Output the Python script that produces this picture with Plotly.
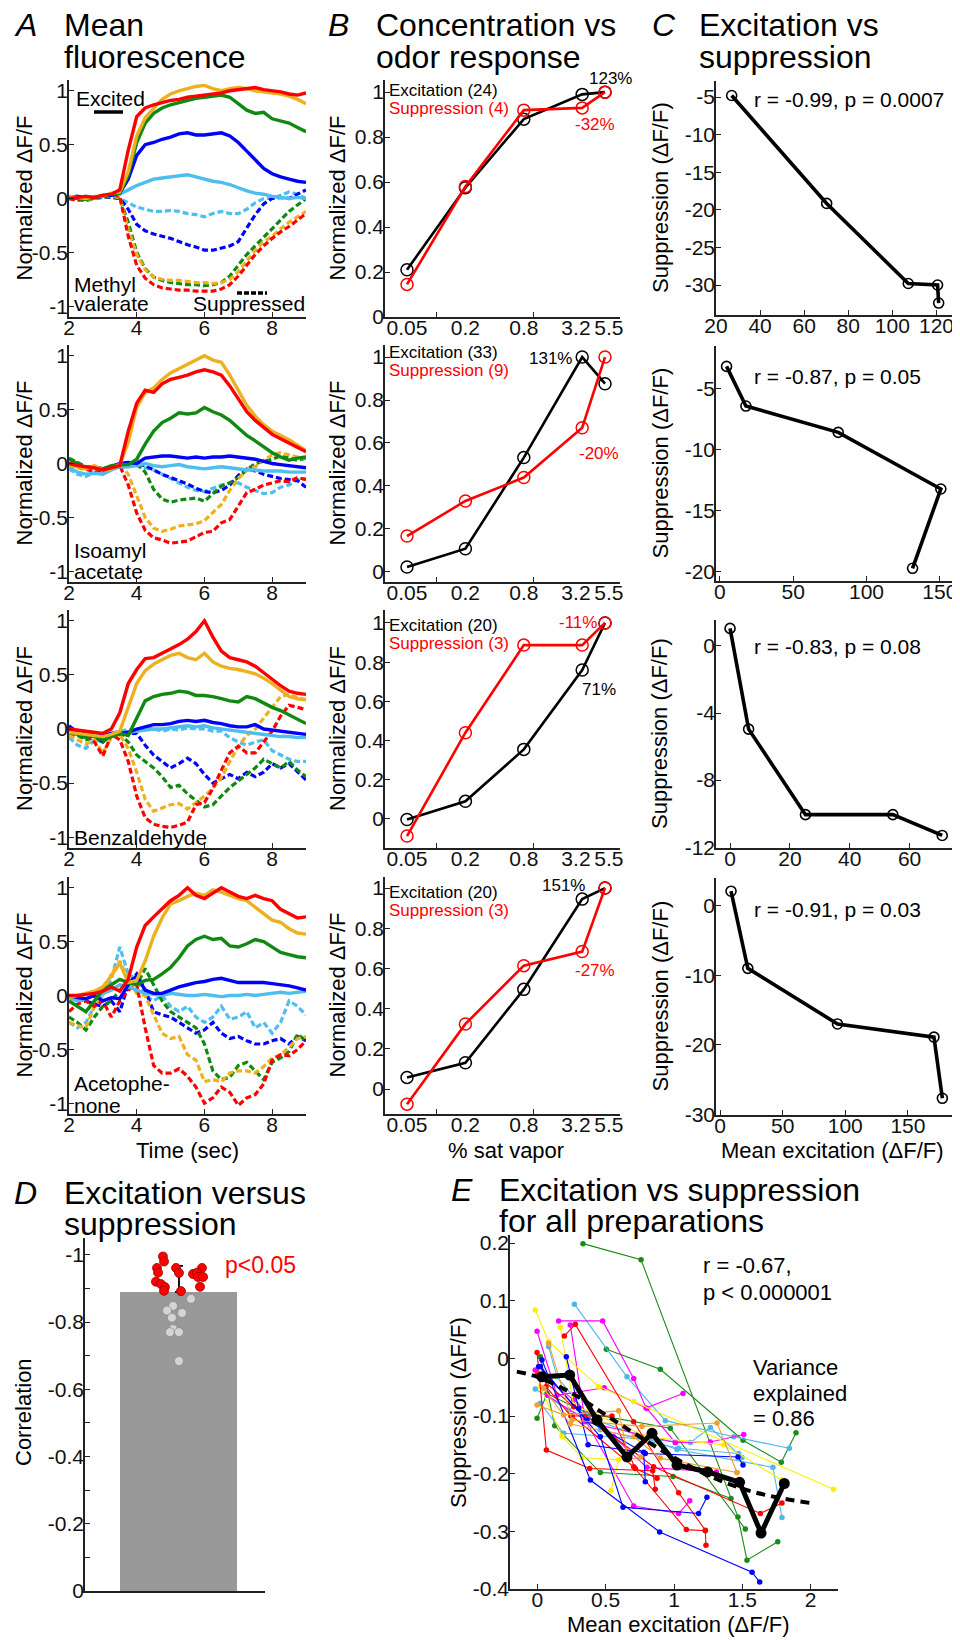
import plotly.graph_objects as go

FONT = "Liberation Sans, Arial, Helvetica, sans-serif"
W, H = 960, 1640
OX, OY = 8, 8          # page body margin of the viewer, compensated in layout positions
AXC = "#222222"

# ---------------- Panel A data (normalized dF/F vs time) ----------------
TIME = [2.0, 2.25, 2.5, 2.75, 3.0, 3.25, 3.5, 3.75, 4.0, 4.25, 4.5, 4.75, 5.0, 5.25, 5.5,
        5.75, 6.0, 6.25, 6.5, 6.75, 7.0, 7.25, 7.5, 7.75, 8.0, 8.25, 8.5, 8.75, 9.0]
CONC = [0.05, 0.2, 0.8, 3.2, 5.5]
CONC_LABELS = ["0.05", "0.2", "0.8", "3.2", "5.5"]
CONC_LABEL_POS = [0.05, 0.2, 0.8, 2.76, 6.04]   # where the labels sit on the log axis
CONC_COLORS = ["#4dbeee", "#0000ff", "#118811", "#edb120", "#ff0000"]

# Methyl valerate
mv_exc_005 = [0.00,0.01,0.02,0.00,0.02,0.03,0.04,0.08,0.12,0.15,0.18,0.19,0.20,0.21,0.22,0.20,0.18,0.16,0.15,0.13,0.10,0.07,0.05,0.04,0.02,0.01,0.00,0.01,0.00]
mv_exc_02 = [0.01,0.02,0.00,0.01,0.02,0.03,0.05,0.18,0.40,0.50,0.52,0.55,0.57,0.60,0.61,0.59,0.59,0.60,0.61,0.58,0.52,0.44,0.36,0.28,0.23,0.20,0.18,0.16,0.15]
mv_exc_08 = [0.01,0.00,-0.01,0.01,0.02,0.04,0.05,0.22,0.52,0.70,0.79,0.84,0.87,0.89,0.91,0.93,0.94,0.95,0.96,0.94,0.88,0.82,0.79,0.80,0.74,0.72,0.70,0.66,0.62]
mv_exc_32 = [0.02,0.01,0.00,0.02,0.02,0.05,0.06,0.25,0.58,0.75,0.84,0.92,0.97,1.00,1.02,1.04,1.05,1.02,1.00,1.02,1.03,1.02,1.00,0.99,0.98,0.97,0.95,0.92,0.88]
mv_exc_55 = [0.00,0.01,0.02,0.01,0.03,0.04,0.08,0.45,0.76,0.84,0.87,0.89,0.91,0.92,0.94,0.95,0.96,0.97,0.98,1.00,1.01,1.02,1.03,1.01,1.00,0.99,0.97,0.96,0.98]
mv_sup_005 = [0.00,0.01,0.00,0.01,0.02,0.01,0.00,-0.04,-0.08,-0.10,-0.12,-0.12,-0.11,-0.12,-0.14,-0.15,-0.17,-0.14,-0.12,-0.14,-0.14,-0.10,-0.04,0.00,0.00,0.03,0.06,0.04,0.00]
mv_sup_02 = [0.01,0.00,0.01,0.00,0.02,0.01,0.00,-0.10,-0.24,-0.30,-0.33,-0.35,-0.37,-0.40,-0.43,-0.45,-0.48,-0.48,-0.46,-0.44,-0.40,-0.28,-0.15,-0.05,0.00,0.01,0.00,0.04,0.08]
mv_sup_08 = [0.01,-0.01,-0.02,0.00,0.01,0.02,0.00,-0.22,-0.50,-0.65,-0.73,-0.76,-0.78,-0.79,-0.80,-0.80,-0.81,-0.80,-0.78,-0.72,-0.62,-0.52,-0.44,-0.36,-0.28,-0.20,-0.12,-0.06,0.00]
mv_sup_32 = [0.01,0.00,-0.01,0.00,0.02,0.02,0.01,-0.28,-0.52,-0.66,-0.73,-0.75,-0.76,-0.76,-0.77,-0.78,-0.78,-0.79,-0.78,-0.75,-0.68,-0.58,-0.48,-0.40,-0.35,-0.28,-0.22,-0.17,-0.12]
mv_sup_55 = [0.00,-0.02,0.01,0.00,0.02,0.03,0.02,-0.35,-0.62,-0.74,-0.80,-0.83,-0.84,-0.85,-0.85,-0.86,-0.86,-0.86,-0.84,-0.80,-0.72,-0.62,-0.52,-0.44,-0.37,-0.31,-0.26,-0.20,-0.14]

# Isoamyl acetate
ia_exc_005 = [-0.04,-0.08,-0.10,-0.09,-0.10,-0.06,-0.03,-0.03,-0.02,0.00,-0.02,-0.03,-0.02,-0.01,-0.03,-0.04,-0.05,-0.04,-0.03,-0.04,-0.05,-0.06,-0.06,-0.07,-0.07,-0.07,-0.08,-0.08,-0.08]
ia_exc_02 = [0.00,-0.02,-0.04,-0.03,-0.05,-0.03,0.00,0.01,0.00,0.05,0.06,0.07,0.07,0.06,0.05,0.06,0.05,0.06,0.06,0.07,0.06,0.05,0.04,0.02,0.00,-0.01,-0.02,-0.03,-0.04]
ia_exc_08 = [0.04,0.00,-0.04,-0.03,-0.05,-0.02,-0.01,-0.01,0.04,0.18,0.30,0.38,0.42,0.47,0.46,0.47,0.52,0.48,0.45,0.40,0.33,0.26,0.21,0.15,0.10,0.06,0.03,0.05,0.06]
ia_exc_32 = [-0.02,-0.03,-0.05,-0.02,-0.06,-0.05,-0.01,0.20,0.52,0.66,0.70,0.78,0.84,0.88,0.92,0.96,1.00,0.96,0.94,0.82,0.68,0.54,0.44,0.36,0.30,0.26,0.22,0.17,0.12]
ia_exc_55 = [0.00,-0.02,-0.03,-0.04,-0.06,-0.04,-0.02,0.30,0.56,0.68,0.66,0.74,0.78,0.80,0.82,0.85,0.87,0.85,0.82,0.72,0.60,0.48,0.40,0.33,0.27,0.23,0.19,0.15,0.11]
ia_sup_005 = [-0.05,-0.10,-0.12,-0.08,-0.10,-0.05,-0.02,0.00,-0.02,-0.04,-0.06,-0.10,-0.14,-0.18,-0.22,-0.25,-0.26,-0.23,-0.20,-0.18,-0.18,-0.22,-0.25,-0.28,-0.27,-0.22,-0.20,-0.15,-0.14]
ia_sup_02 = [0.00,-0.03,-0.05,-0.04,-0.06,-0.03,0.00,-0.01,0.00,-0.02,-0.06,-0.10,-0.13,-0.16,-0.19,-0.23,-0.26,-0.27,-0.25,-0.20,-0.11,-0.05,-0.07,-0.10,-0.12,-0.14,-0.15,-0.16,-0.22]
ia_sup_08 = [0.05,0.01,-0.03,-0.04,-0.07,-0.03,-0.02,-0.01,0.00,-0.08,-0.24,-0.33,-0.36,-0.34,-0.33,-0.32,-0.35,-0.28,-0.21,-0.18,-0.13,-0.06,0.00,0.02,0.04,0.07,0.05,0.03,0.05]
ia_sup_32 = [-0.01,-0.04,-0.06,-0.05,-0.06,-0.03,0.00,-0.10,-0.30,-0.50,-0.60,-0.63,-0.61,-0.58,-0.57,-0.56,-0.53,-0.46,-0.38,-0.25,-0.14,-0.06,-0.03,0.03,0.08,0.10,0.08,0.06,0.05]
ia_sup_55 = [-0.02,-0.03,-0.05,-0.08,-0.07,-0.04,-0.02,-0.20,-0.46,-0.62,-0.69,-0.71,-0.74,-0.73,-0.72,-0.68,-0.64,-0.63,-0.55,-0.52,-0.40,-0.27,-0.24,-0.20,-0.18,-0.16,-0.17,-0.13,-0.15]

# Benzaldehyde
bz_exc_005 = [-0.02,-0.04,-0.06,-0.05,-0.07,-0.04,-0.02,-0.03,-0.02,-0.01,0.00,0.00,0.01,0.02,0.03,0.02,0.03,0.01,0.00,-0.01,-0.02,-0.03,-0.04,-0.05,-0.06,-0.07,-0.07,-0.08,-0.08]
bz_exc_02 = [0.02,-0.02,-0.04,-0.05,-0.06,-0.04,-0.04,-0.03,0.00,0.02,0.04,0.04,0.05,0.07,0.08,0.07,0.08,0.06,0.05,0.03,0.02,0.02,0.04,0.00,-0.01,-0.02,-0.03,-0.04,-0.05]
bz_exc_08 = [-0.03,-0.05,-0.08,-0.06,-0.10,-0.07,-0.04,-0.06,0.10,0.26,0.30,0.32,0.33,0.35,0.34,0.31,0.31,0.30,0.28,0.26,0.25,0.30,0.28,0.24,0.20,0.17,0.13,0.09,0.05]
bz_exc_32 = [-0.03,-0.04,-0.05,-0.06,-0.07,-0.05,-0.02,0.20,0.42,0.54,0.60,0.64,0.68,0.70,0.66,0.64,0.70,0.62,0.58,0.56,0.55,0.53,0.51,0.47,0.42,0.36,0.30,0.28,0.27]
bz_exc_55 = [0.00,-0.01,-0.02,-0.03,-0.04,0.00,0.15,0.42,0.55,0.65,0.66,0.70,0.74,0.78,0.83,0.90,1.00,0.85,0.72,0.66,0.64,0.62,0.58,0.52,0.46,0.40,0.35,0.33,0.32]
bz_sup_005 = [-0.08,-0.15,-0.18,-0.10,-0.12,-0.04,-0.03,0.00,-0.02,0.02,0.00,-0.02,0.00,-0.01,0.01,0.00,0.00,-0.02,-0.02,-0.08,-0.12,-0.15,-0.12,-0.10,-0.20,-0.24,-0.28,-0.30,-0.30]
bz_sup_02 = [0.03,-0.04,-0.08,-0.06,-0.12,-0.05,-0.05,-0.04,-0.04,-0.15,-0.24,-0.30,-0.36,-0.32,-0.27,-0.32,-0.42,-0.50,-0.46,-0.42,-0.46,-0.40,-0.44,-0.40,-0.32,-0.36,-0.32,-0.40,-0.47]
bz_sup_08 = [-0.04,-0.06,-0.10,-0.08,-0.12,-0.06,-0.05,-0.12,-0.24,-0.30,-0.36,-0.44,-0.54,-0.52,-0.60,-0.66,-0.72,-0.70,-0.62,-0.54,-0.48,-0.42,-0.36,-0.28,-0.32,-0.36,-0.30,-0.38,-0.44]
bz_sup_32 = [-0.06,-0.10,-0.14,-0.10,-0.22,-0.08,-0.05,-0.18,-0.40,-0.65,-0.76,-0.73,-0.70,-0.69,-0.74,-0.68,-0.62,-0.55,-0.45,-0.30,-0.16,-0.06,0.00,0.10,0.20,0.30,0.32,0.29,0.27]
bz_sup_55 = [-0.01,-0.03,-0.06,-0.12,-0.25,-0.05,-0.10,-0.30,-0.62,-0.82,-0.88,-0.90,-0.91,-0.89,-0.86,-0.70,-0.68,-0.55,-0.38,-0.22,-0.16,-0.22,-0.22,-0.12,-0.02,0.12,0.22,0.20,0.18]

# Acetophenone
ap_exc_005 = [-0.02,-0.05,-0.03,0.00,0.02,0.05,0.10,0.08,0.05,0.02,0.01,0.00,0.02,0.01,0.00,0.00,0.01,0.00,-0.01,0.00,0.00,0.01,0.00,0.01,0.02,0.03,0.02,0.03,0.04]
ap_exc_02 = [0.00,-0.02,-0.03,0.00,-0.05,-0.02,-0.03,0.10,0.18,0.05,0.02,0.02,0.05,0.08,0.10,0.12,0.13,0.15,0.16,0.14,0.12,0.12,0.12,0.12,0.11,0.10,0.09,0.07,0.05]
ap_exc_08 = [-0.05,-0.10,-0.15,-0.05,0.05,0.10,0.15,0.12,0.10,0.14,0.15,0.20,0.26,0.35,0.46,0.52,0.55,0.52,0.53,0.46,0.45,0.48,0.52,0.50,0.45,0.40,0.38,0.36,0.35]
ap_exc_32 = [-0.02,0.00,0.02,0.04,0.08,0.18,0.30,0.12,0.14,0.32,0.55,0.72,0.85,0.88,0.92,0.95,0.93,0.98,0.96,0.93,0.90,0.88,0.82,0.76,0.70,0.68,0.62,0.58,0.57]
ap_exc_55 = [0.00,0.00,0.01,0.02,0.04,0.08,0.04,0.15,0.45,0.65,0.73,0.80,0.88,0.93,1.00,0.93,0.90,0.95,1.00,0.96,0.92,0.90,0.93,0.90,0.88,0.80,0.76,0.72,0.73]
ap_sup_005 = [-0.25,-0.30,-0.25,-0.10,0.00,0.15,0.45,0.20,0.15,0.00,-0.05,0.00,-0.10,-0.15,-0.10,-0.20,-0.25,-0.20,-0.10,-0.22,-0.20,-0.15,-0.30,-0.25,-0.35,-0.25,-0.05,-0.10,-0.18]
ap_sup_02 = [0.00,-0.03,-0.05,-0.08,-0.10,-0.05,-0.15,0.10,0.20,0.05,-0.15,-0.18,-0.20,-0.25,-0.30,-0.35,-0.32,-0.25,-0.35,-0.40,-0.38,-0.42,-0.45,-0.45,-0.42,-0.40,-0.45,-0.38,-0.42]
ap_sup_08 = [-0.20,-0.25,-0.32,-0.20,-0.10,-0.05,0.05,0.12,0.10,0.25,0.10,-0.05,-0.15,-0.20,-0.25,-0.30,-0.45,-0.70,-0.78,-0.76,-0.65,-0.62,-0.70,-0.78,-0.62,-0.58,-0.52,-0.36,-0.42]
ap_sup_32 = [-0.25,-0.28,-0.30,-0.10,0.00,0.20,0.32,0.15,0.02,0.00,-0.18,-0.35,-0.40,-0.38,-0.55,-0.60,-0.80,-0.78,-0.80,-0.72,-0.70,-0.70,-0.72,-0.66,-0.58,-0.55,-0.48,-0.40,-0.38]
ap_sup_55 = [-0.15,-0.08,-0.05,-0.10,-0.05,-0.20,-0.05,0.05,0.10,-0.30,-0.65,-0.72,-0.72,-0.68,-0.75,-0.85,-1.00,-0.95,-0.85,-0.90,-1.02,-0.95,-0.92,-0.82,-0.60,-0.55,-0.56,-0.50,-0.42]

# ---------------- Panel B data (concentration response) ----------------
b_mv_exc = [0.21, 0.575, 0.88, 0.99, 1.0]
b_mv_sup = [0.145, 0.58, 0.92, 0.93, 1.0]
b_ia_exc = [0.023, 0.108, 0.532, 1.0, 0.876]
b_ia_sup = [0.167, 0.33, 0.439, 0.671, 1.0]
b_bz_exc = [-0.003, 0.09, 0.355, 0.76, 1.0]
b_bz_sup = [-0.087, 0.44, 0.887, 0.887, 1.0]
b_ap_exc = [0.058, 0.131, 0.496, 0.945, 1.0]
b_ap_sup = [-0.075, 0.324, 0.614, 0.684, 1.0]
B_COUNTS = [("Excitation (24)", "Suppression (4)"), ("Excitation (33)", "Suppression (9)"),
            ("Excitation (20)", "Suppression (3)"), ("Excitation (20)", "Suppression (3)")]

# ---------------- Panel C data (excitation vs suppression) ----------------
c_mv_x = [27.1, 70.2, 107.2, 120.5, 121.0]
c_mv_y = [-4.8, -19.15, -29.8, -30.0, -32.4]
c_ia_x = [4.5, 17.7, 80.7, 150.7, 131.4]
c_ia_y = [-3.15, -6.4, -8.56, -13.2, -19.7]
c_bz_x = [0.0, 6.2, 25.2, 54.4, 70.9]
c_bz_y = [1.05, -4.96, -10.06, -10.06, -11.3]
c_ap_x = [8.8, 22.2, 93.8, 170.8, 177.5]
c_ap_y = [2.1, -9.0, -17.0, -18.9, -27.7]
C_STATS = ["r = -0.99, p = 0.0007", "r = -0.87, p = 0.05", "r = -0.83, p = 0.08", "r = -0.91, p = 0.03"]

# ---------------- Panel D data ----------------
D_MEAN = -0.89
D_SEM = 0.077
d_sig_x = [0.433, 0.439, 0.400, 0.406, 0.506, 0.522, 0.650, 0.600, 0.622, 0.628, 0.656, 0.394, 0.422, 0.444, 0.439, 0.533, 0.639]
d_sig_r = [-0.995, -0.980, -0.961, -0.947, -0.961, -0.946, -0.961, -0.943, -0.947, -0.934, -0.934, -0.920, -0.913, -0.904, -0.893, -0.892, -0.905]
d_ns_x = [0.589, 0.489, 0.456, 0.539, 0.483, 0.489, 0.472, 0.522, 0.522]
d_ns_r = [-0.869, -0.848, -0.834, -0.827, -0.813, -0.779, -0.770, -0.770, -0.684]

# ---------------- Panel E data ----------------
E_PREP_COLORS = ["#1a8c1a", "#1a8c1a", "#1a8c1a", "#1a8c1a",
                 "#4db8e8", "#4db8e8", "#4db8e8", "#4db8e8",
                 "#ff00ff", "#ff00ff", "#ff00ff", "#ff00ff", "#ff00ff",
                 "#ffee00", "#ffee00", "#ffee00",
                 "#ff0000", "#ff0000", "#ff0000", "#ff0000", "#ff0000",
                 "#0000ff", "#0000ff", "#0000ff", "#0000ff",
                 "#f0a030", "#f0a030", "#f0a030"]
E_PREP_X = [
    [0.334, 0.759, 1.468, 1.534, 1.759],
    [0.505, 0.900, 1.505, 1.785, 1.893],
    [0.022, 0.127, 0.461, 0.993, 1.417],
    [-0.002, 0.071, 0.363, 0.973, 1.522],
    [0.271, 0.656, 0.937, 1.437, 1.844],
    [-0.015, 0.229, 1.022, 1.724, 1.790],
    [0.022, 0.193, 1.120, 1.266, 1.498],
    [0.083, 0.144, 0.461, 1.034, 1.473],
    [0.156, 0.478, 0.705, 0.795, 1.066],
    [-0.002, 0.144, 0.490, 0.802, 1.010],
    [0.241, 0.351, 1.010, 1.266, 1.510],
    [0.071, 0.351, 0.705, 1.034, 1.115],
    [-0.015, 0.266, 0.559, 0.802, 1.310],
    [-0.015, 0.083, 0.449, 0.705, 2.168],
    [0.168, 0.266, 0.802, 1.363, 1.790],
    [0.022, 0.180, 0.327, 0.595, 0.539],
    [-0.002, 0.066, 0.383, 0.844, 0.863],
    [0.198, 0.278, 0.705, 1.034, 1.229],
    [0.254, 0.705, 1.090, 1.229, 1.234],
    [-0.002, 0.266, 0.851, 1.632, 1.790],
    [0.063, 0.246, 0.546, 0.717, 0.876],
    [0.034, 0.388, 0.895, 1.571, 1.627],
    [0.212, 0.302, 0.371, 0.778, 0.790],
    [0.022, 0.461, 0.627, 1.180, 1.241],
    [0.010, 0.363, 0.790, 1.468, 1.505],
    [0.083, 0.254, 0.766, 1.315, 1.461],
    [-0.002, 0.193, 0.595, 0.668, 0.754],
    [0.046, 0.241, 0.705, 0.900, 1.461],
]
E_PREP_Y = [
    [0.199, 0.171, -0.275, -0.350, -0.318],
    [0.016, -0.019, -0.142, -0.180, -0.129],
    [0.003, -0.117, -0.198, -0.205, -0.243],
    [-0.104, -0.061, -0.095, -0.121, -0.296],
    [0.094, -0.032, -0.108, -0.136, -0.156],
    [-0.053, -0.090, -0.158, -0.189, -0.276],
    [-0.078, -0.130, -0.146, -0.120, -0.172],
    [0.020, -0.032, -0.124, -0.156, -0.165],
    [0.065, 0.065, -0.035, -0.086, -0.061],
    [0.047, -0.064, -0.051, -0.087, -0.146],
    [0.058, -0.110, -0.146, -0.145, -0.132],
    [-0.064, -0.107, -0.256, -0.269, -0.247],
    [-0.020, -0.072, -0.136, -0.189, -0.197],
    [0.084, 0.029, -0.049, -0.075, -0.227],
    [0.054, -0.081, -0.136, -0.150, -0.211],
    [-0.049, -0.135, -0.172, -0.176, -0.229],
    [0.010, -0.159, -0.191, -0.195, -0.227],
    [0.039, 0.059, -0.110, -0.233, -0.298],
    [-0.100, -0.188, -0.297, -0.299, -0.324],
    [-0.029, -0.084, -0.188, -0.269, -0.251],
    [-0.049, -0.100, -0.100, -0.191, -0.208],
    [-0.003, -0.211, -0.301, -0.371, -0.388],
    [0.003, -0.087, -0.150, -0.163, -0.214],
    [-0.014, -0.136, -0.258, -0.269, -0.241],
    [-0.014, -0.107, -0.165, -0.171, -0.185],
    [0.026, -0.107, -0.118, -0.112, -0.198],
    [-0.081, -0.098, -0.091, -0.176, -0.171],
    [-0.052, -0.114, -0.136, -0.173, -0.198],
]
E_MEAN_X = [0.034, 0.237, 0.437, 0.656, 0.839, 1.022, 1.246, 1.480, 1.637, 1.807]
E_MEAN_Y = [-0.032, -0.029, -0.107, -0.171, -0.130, -0.185, -0.197, -0.215, -0.303, -0.217]
E_FIT_X = [-0.15, 0.0, 0.25, 0.5, 0.75, 1.0, 1.25, 1.5, 1.75, 2.0]
E_FIT_Y = [-0.023, -0.032, -0.060, -0.098, -0.136, -0.172, -0.203, -0.226, -0.241, -0.251]

# ---------------- figure ----------------
fig = go.Figure()
axes = {}


def PX(x):
    return (x - OX) / W


def PY(y):
    return 1 - (y - OY) / H


def axid(n):
    return "" if n == 1 else str(n)


def set_axes(n, xdom, ydom, xr, yr, xkw=None, ykw=None):
    base = dict(showline=True, linecolor=AXC, linewidth=1.6, ticks="inside", ticklen=5,
                tickwidth=1.3, tickcolor=AXC, showgrid=False, zeroline=False, automargin=False,
                tickfont=dict(family=FONT, size=21, color="#111111"))
    xa = dict(base, domain=[PX(xdom[0]), PX(xdom[1])], range=xr, anchor="y" + axid(n),
              ticklabelstandoff=-9)
    ya = dict(base, domain=[PY(ydom[1]), PY(ydom[0])], range=yr, anchor="x" + axid(n),
              ticklabelstandoff=-5)
    if xkw:
        xa.update(xkw)
    if ykw:
        ya.update(ykw)
    axes["xaxis" + axid(n)] = xa
    axes["yaxis" + axid(n)] = ya


def tk(vals, texts):
    return dict(tickmode="array", tickvals=vals, ticktext=texts)


annots = []


def txt(x, y, s, size=21, color="#000000", xanchor="left", angle=0):
    annots.append(dict(x=PX(x), y=PY(y), xref="paper", yref="paper", text=s, showarrow=False,
                       xanchor=xanchor, yanchor="middle", textangle=angle, borderpad=0,
                       font=dict(family=FONT, size=size, color=color)))


ROWS = [(80, 317), (345, 582), (610, 848), (877, 1114)]

# ---- Panel A ----
A_SETS = [
    ([mv_exc_005, mv_exc_02, mv_exc_08, mv_exc_32, mv_exc_55], [mv_sup_005, mv_sup_02, mv_sup_08, mv_sup_32, mv_sup_55]),
    ([ia_exc_005, ia_exc_02, ia_exc_08, ia_exc_32, ia_exc_55], [ia_sup_005, ia_sup_02, ia_sup_08, ia_sup_32, ia_sup_55]),
    ([bz_exc_005, bz_exc_02, bz_exc_08, bz_exc_32, bz_exc_55], [bz_sup_005, bz_sup_02, bz_sup_08, bz_sup_32, bz_sup_55]),
    ([ap_exc_005, ap_exc_02, ap_exc_08, ap_exc_32, ap_exc_55], [ap_sup_005, ap_sup_02, ap_sup_08, ap_sup_32, ap_sup_55]),
]
for i, (exc, sup) in enumerate(A_SETS):
    n = 1 + i
    xa = "x" + axid(n)
    ya = "y" + axid(n)
    for series, color in zip(sup, CONC_COLORS):
        fig.add_trace(go.Scatter(x=TIME, y=series, mode="lines", xaxis=xa, yaxis=ya,
                                 line=dict(color=color, width=3.2, dash="6px,3px"), showlegend=False))
    for series, color in zip(exc, CONC_COLORS):
        fig.add_trace(go.Scatter(x=TIME, y=series, mode="lines", xaxis=xa, yaxis=ya,
                                 line=dict(color=color, width=3.4), showlegend=False))
    set_axes(n, (69, 306), ROWS[i], [2, 9], [-1.1, 1.1],
             xkw=tk([2, 4, 6, 8], ["2", "4", "6", "8"]),
             ykw=tk([-1, -0.5, 0, 0.5, 1], ["-1", "-0.5", "0", "0.5", "1"]))
    txt(24, (ROWS[i][0] + ROWS[i][1]) / 2, "Normalized \u0394F/F", size=22, xanchor="center", angle=-90)

# ---- Panel B ----
B_SETS = [(b_mv_exc, b_mv_sup), (b_ia_exc, b_ia_sup), (b_bz_exc, b_bz_sup), (b_ap_exc, b_ap_sup)]
B_YR = [[0.0, 1.054], [-0.047, 1.056], [-0.148, 1.066], [-0.124, 1.055]]
for i, (exc, sup) in enumerate(B_SETS):
    n = 5 + i
    xa = "x" + axid(n)
    ya = "y" + axid(n)
    fig.add_trace(go.Scatter(x=CONC, y=exc, mode="lines+markers", xaxis=xa, yaxis=ya,
                             line=dict(color="#000000", width=2.6),
                             marker=dict(symbol="circle-open", size=12, color="#000000", line=dict(width=1.5)),
                             showlegend=False))
    fig.add_trace(go.Scatter(x=CONC, y=sup, mode="lines+markers", xaxis=xa, yaxis=ya,
                             line=dict(color="#ff0000", width=2.6),
                             marker=dict(symbol="circle-open", size=12, color="#ff0000", line=dict(width=1.5)),
                             showlegend=False))
    set_axes(n, (385, 620), ROWS[i], [-1.528, 0.895], B_YR[i],
             xkw=dict(type="log", ticks="", tickangle=0, **tk(CONC_LABEL_POS, CONC_LABELS),
                      minor=dict(ticks="inside", ticklen=5, tickwidth=1.3, tickcolor=AXC,
                                 tickmode="array", tickvals=[0.1, 1])),
             ykw=tk([0, 0.2, 0.4, 0.6, 0.8, 1], ["0", "0.2", "0.4", "0.6", "0.8", "1"]))
    txt(337, (ROWS[i][0] + ROWS[i][1]) / 2, "Normalized \u0394F/F", size=22, xanchor="center", angle=-90)

B_LEG_Y = [(90, 108), (353, 371), (625, 643), (892, 910)]
for (e, s), (y1, y2) in zip(B_COUNTS, B_LEG_Y):
    txt(388, y1, e, size=17)
    txt(388, y2, s, size=17, color="#ff0000")
txt(610, 78, "123%", size=17, xanchor="center")
txt(595, 125, "-32%", size=17, color="#ff0000", xanchor="center")
txt(550, 359, "131%", size=17, xanchor="center")
txt(599, 453, "-20%", size=17, color="#ff0000", xanchor="center")
txt(578, 622, "-11%", size=17, color="#ff0000", xanchor="center")
txt(599, 690, "71%", size=17, xanchor="center")
txt(563, 885, "151%", size=17, xanchor="center")
txt(595, 970, "-27%", size=17, color="#ff0000", xanchor="center")
txt(506, 1150, "% sat vapor", size=22, xanchor="center")

# ---- Panel C ----
C_SETS = [(c_mv_x, c_mv_y), (c_ia_x, c_ia_y), (c_bz_x, c_bz_y), (c_ap_x, c_ap_y)]
C_ROWS = [(81, 315), (346, 581), (620, 848), (878, 1115)]
C_XR = [[20, 127.5], [-2.7, 159], [-4.7, 74.5], [-3.2, 186]]
C_YR = [[-33.99, -2.87], [-20.74, -1.48], [-12.05, 1.55], [-30.1, 4.0]]
C_XT = [[20, 40, 60, 80, 100, 120], [0, 50, 100, 150], [0, 20, 40, 60], [0, 50, 100, 150]]
C_YT = [[-30, -25, -20, -15, -10, -5], [-20, -15, -10, -5], [-12, -8, -4, 0], [-30, -20, -10, 0]]
C_STAT_Y = [99, 377, 646, 909]
for i, (cx, cy) in enumerate(C_SETS):
    n = 9 + i
    fig.add_trace(go.Scatter(x=cx, y=cy, mode="lines+markers", xaxis="x" + axid(n), yaxis="y" + axid(n),
                             line=dict(color="#000000", width=3.6),
                             marker=dict(symbol="circle-open", size=10, color="#000000", line=dict(width=1.6)),
                             showlegend=False))
    set_axes(n, (716, 953), C_ROWS[i], C_XR[i], C_YR[i],
             xkw=dict(tickangle=0, **tk(C_XT[i], [str(v) for v in C_XT[i]])),
             ykw=tk(C_YT[i], [str(v) for v in C_YT[i]]))
    txt(660, (C_ROWS[i][0] + C_ROWS[i][1]) / 2, "Suppression (\u0394F/F)", size=22, xanchor="center", angle=-90)
    txt(753, C_STAT_Y[i], C_STATS[i], size=21)
txt(832, 1150, "Mean excitation (\u0394F/F)", size=22, xanchor="center")

# ---- Panel D ----
fig.add_trace(go.Bar(x=[0.52], y=[D_MEAN], width=[0.65], xaxis="x13", yaxis="y13",
                     marker=dict(color="#999999", line=dict(width=0)), showlegend=False))
fig.add_trace(go.Scatter(x=[0.522], y=[D_MEAN], mode="markers", xaxis="x13", yaxis="y13",
                         marker=dict(size=1, color="rgba(0,0,0,0)"),
                         error_y=dict(type="data", symmetric=False, array=[0], arrayminus=[D_SEM],
                                      color="#000000", thickness=1.8, width=4),
                         showlegend=False))
fig.add_trace(go.Scatter(x=d_ns_x, y=d_ns_r, mode="markers", xaxis="x13", yaxis="y13",
                         marker=dict(size=9, color="#d4d4d4", line=dict(color="#8c8c8c", width=0.8)),
                         showlegend=False))
fig.add_trace(go.Scatter(x=d_sig_x, y=d_sig_r, mode="markers", xaxis="x13", yaxis="y13",
                         marker=dict(size=9, color="#ff0000", line=dict(color="#990000", width=0.8)),
                         showlegend=False))
d_ticks = [-1.0, -0.9, -0.8, -0.7, -0.6, -0.5, -0.4, -0.3, -0.2, -0.1, 0.0]
d_text = ["-1", "", "-0.8", "", "-0.6", "", "-0.4", "", "-0.2", "", "0"]
set_axes(13, (85, 265), (1238, 1591), [0, 1], [0, -1.05],
         xkw=dict(ticks="", showticklabels=False),
         ykw=tk(d_ticks, d_text))
txt(23, 1412, "Correlation", size=22, xanchor="center", angle=-90)
txt(260, 1265, "p<0.05", size=23, color="#ff0000", xanchor="center")

# ---- Panel E ----
for cx, cy, col in zip(E_PREP_X, E_PREP_Y, E_PREP_COLORS):
    fig.add_trace(go.Scatter(x=cx, y=cy, mode="lines+markers", xaxis="x14", yaxis="y14",
                             line=dict(color=col, width=1.1), marker=dict(size=5.5, color=col),
                             showlegend=False))
fig.add_trace(go.Scatter(x=E_FIT_X, y=E_FIT_Y, mode="lines", xaxis="x14", yaxis="y14",
                         line=dict(color="#000000", width=4, dash="9px,6px"), line_shape="spline",
                         showlegend=False))
fig.add_trace(go.Scatter(x=E_MEAN_X, y=E_MEAN_Y, mode="lines+markers", xaxis="x14", yaxis="y14",
                         line=dict(color="#000000", width=5), marker=dict(size=11, color="#000000"),
                         showlegend=False))
set_axes(14, (510, 838), (1235, 1589), [-0.2, 2.2], [-0.4, 0.214],
         xkw=dict(tickangle=0, **tk([0, 0.5, 1, 1.5, 2], ["0", "0.5", "1", "1.5", "2"])),
         ykw=tk([-0.4, -0.3, -0.2, -0.1, 0, 0.1, 0.2], ["-0.4", "-0.3", "-0.2", "-0.1", "0", "0.1", "0.2"]))
txt(458, 1413, "Suppression (\u0394F/F)", size=22, xanchor="center", angle=-90)
txt(678, 1624, "Mean excitation (\u0394F/F)", size=22, xanchor="center")
txt(702, 1265, "r = -0.67,", size=22)
txt(702, 1292, "p < 0.000001", size=22)
txt(752, 1367, "Variance", size=22)
txt(752, 1393, "explained", size=22)
txt(752, 1418, "= 0.86", size=22)

# ---- Panel A inline labels ----
txt(110, 98, "Excited", size=21, xanchor="center")
txt(73, 284, "Methyl", size=21)
txt(73, 304, "valerate", size=21)
txt(306, 304, "Suppressed", size=21, xanchor="right")
txt(73, 550, "Isoamyl", size=21)
txt(73, 571, "acetate", size=21)
txt(73, 837, "Benzaldehyde", size=21)
txt(73, 1083, "Acetophe-", size=21)
txt(73, 1105, "none", size=21)
txt(187, 1150, "Time (sec)", size=22, xanchor="center")

# ---- Panel titles ----
TITLE = 32
txt(13, 25, "<i>A</i>", size=TITLE)
txt(63, 25, "Mean", size=TITLE)
txt(63, 57, "fluorescence", size=TITLE)
txt(327, 25, "<i>B</i>", size=TITLE)
txt(375, 25, "Concentration vs", size=TITLE)
txt(375, 57, "odor response", size=TITLE)
txt(651, 25, "<i>C</i>", size=TITLE)
txt(698, 25, "Excitation vs", size=TITLE)
txt(698, 57, "suppression", size=TITLE)
txt(13, 1193, "<i>D</i>", size=TITLE)
txt(63, 1193, "Excitation versus", size=TITLE)
txt(63, 1224, "suppression", size=TITLE)
txt(450, 1190, "<i>E</i>", size=TITLE)
txt(498, 1190, "Excitation vs suppression", size=TITLE)
txt(498, 1221, "for all preparations", size=TITLE)

# ---- stimulus bars in panel A1 ----
shapes = [
    dict(type="line", xref="paper", yref="paper", x0=PX(94), x1=PX(123), y0=PY(112), y1=PY(112),
         line=dict(color="#000000", width=3.5)),
    dict(type="line", xref="paper", yref="paper", x0=PX(237), x1=PX(267), y0=PY(293), y1=PY(293),
         line=dict(color="#000000", width=3.5, dash="5px,2px")),
]

fig.update_layout(width=W, height=H, margin=dict(l=0, r=0, t=0, b=0, pad=0, autoexpand=False),
                  paper_bgcolor="white", plot_bgcolor="white", showlegend=False,
                  font=dict(family=FONT, size=21, color="#000000"),
                  annotations=annots, shapes=shapes, bargap=0, **axes)

fig.write_html("out.html")
